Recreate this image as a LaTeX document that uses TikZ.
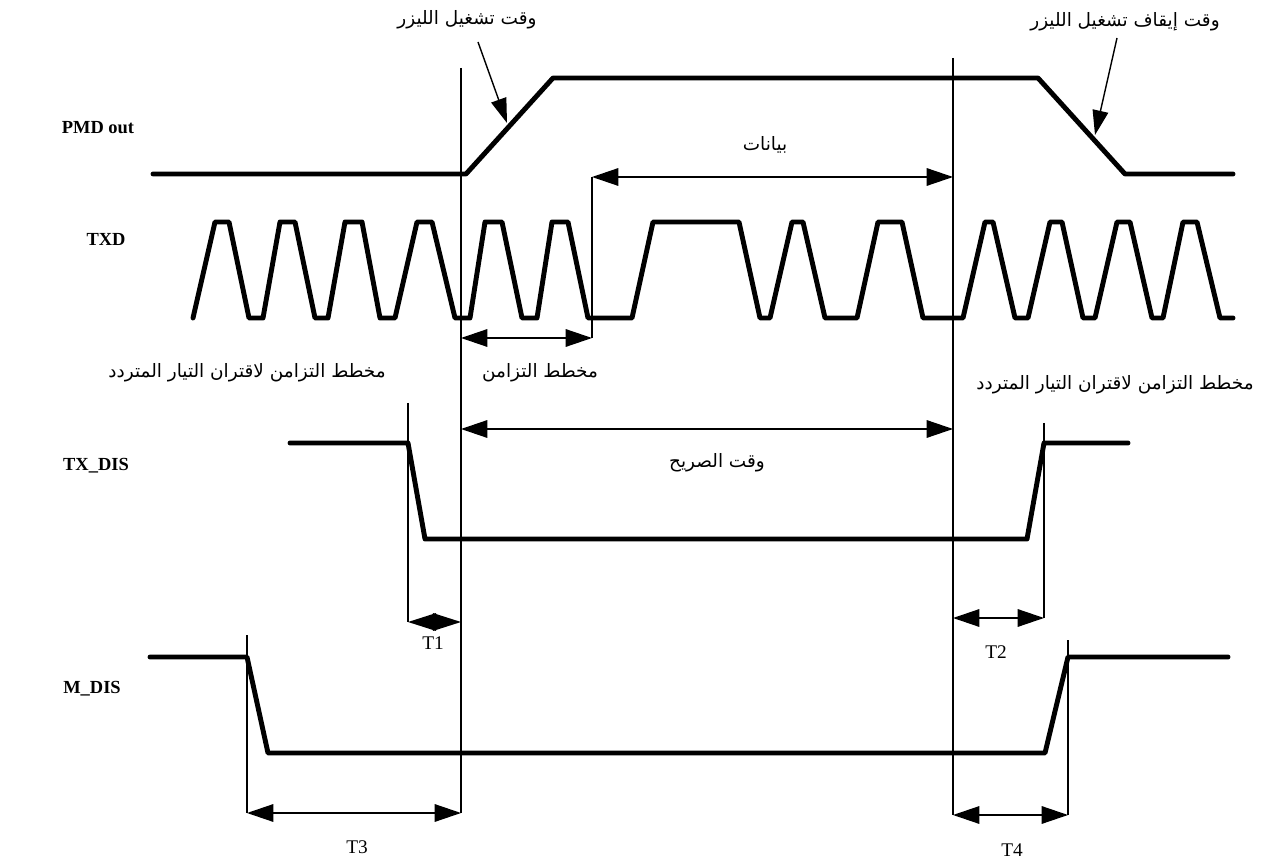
\documentclass[tikz,border=0pt]{standalone}
\usepackage{fontspec}
\setmainfont{Liberation Serif}
\newfontfamily\arabicfont[Script=Arabic]{DejaVu Sans}
\TeXXeTstate=1
\usetikzlibrary{arrows.meta}
\begin{document}
\begin{tikzpicture}[x=0.02cm,y=-0.02cm]
\tikzset{
 sig/.style={line width=2.8pt, line join=round, line cap=round},
 guide/.style={line width=0.75pt},
 dim/.style={line width=0.8pt, {Triangle[length=15pt,width=10pt]}-{Triangle[length=15pt,width=10pt]}},
 dimshort/.style={line width=0.8pt, {Triangle[length=16pt,width=10pt]}-{Triangle[length=16pt,width=10pt]}},
 ptr/.style={line width=0.8pt, -{Triangle[length=14pt,width=9pt]}},
 ar/.style={font=\arabicfont\fontsize{10.5}{12}\selectfont, inner sep=0pt},
 sl/.style={font=\bfseries\fontsize{10.5}{12}\selectfont, inner sep=0pt},
 tl/.style={font=\fontsize{11}{13}\selectfont, inner sep=0pt}
}
\useasboundingbox (0,0) rectangle (1261,861);
\fill[white] (0,0) rectangle (1261,861);

% signal labels
\node[sl] (lpmd) at (98,128) {PMD out};
\node[sl] (ltxd) at (106,239) {TXD};
\node[sl] (ltxdis) at (96,466) {TX\_DIS};
\node[sl] (lmdis) at (92,689) {M\_DIS};

% vertical reference lines
\draw[guide] (461,68) -- (461,207);
\draw[line width=1.3pt] (461,207) -- (461,813);
\draw[line width=1pt] (953,58) -- (953,815);
\draw[guide] (592,177) -- (592,338);
\draw[guide] (408,403) -- (408,622);
\draw[guide] (1044,423) -- (1044,618);
\draw[guide] (247,635) -- (247,813);
\draw[guide] (1068,640) -- (1068,815);

% PMD out
\draw[sig] (153,174) -- (466,174) -- (553,78) -- (1038,78) -- (1125,174) -- (1233,174);

% TXD
\draw[sig] (193,318) -- (215,222) -- (229,222) -- (249,318) -- (263,318) -- (280,222) -- (295,222) -- (315,318) -- (328,318) -- (345,222) -- (362,222) -- (380,318) -- (395,318) -- (417,222) -- (432,222) -- (455,318) -- (470,318) -- (485,222) -- (502,222) -- (522,318) -- (537,318) -- (552,222) -- (568,222) -- (588,318) -- (632,318) -- (653,222) -- (739,222) -- (760,318) -- (770,318) -- (792,222) -- (803,222) -- (825,318) -- (857,318) -- (878,222) -- (902,222) -- (923,318) -- (963,318) -- (985,222) -- (993,222) -- (1015,318) -- (1028,318) -- (1050,222) -- (1062,222) -- (1083,318) -- (1095,318) -- (1117,222) -- (1130,222) -- (1152,318) -- (1163,318) -- (1183,222) -- (1197,222) -- (1220,318) -- (1233,318);

% TX_DIS
\draw[sig] (290,443) -- (408,443) -- (425,539) -- (1027,539) -- (1044,443) -- (1128,443);

% M_DIS
\draw[sig] (150,657) -- (247,657) -- (268,753) -- (1045,753) -- (1068,657) -- (1228,657);

% dimension arrows
\coordinate (dA1) at (592,177); \coordinate (dA2) at (953,177);
\coordinate (dB1) at (461,338); \coordinate (dB2) at (592,338);
\coordinate (dC1) at (461,429); \coordinate (dC2) at (953,429);
\coordinate (dT1a) at (408,622); \coordinate (dT1b) at (461,622);
\coordinate (dT2a) at (953,618); \coordinate (dT2b) at (1044,618);
\coordinate (dT3a) at (247,813); \coordinate (dT3b) at (461,813);
\coordinate (dT4a) at (953,815); \coordinate (dT4b) at (1068,815);
\draw[dim] (dA1) -- (dA2);
\draw[dim] (dB1) -- (dB2);
\draw[dim] (dC1) -- (dC2);
\draw[dimshort] (dT1a) -- (dT1b);
\draw[dim] (dT2a) -- (dT2b);
\draw[dim] (dT3a) -- (dT3b);
\draw[dim] (dT4a) -- (dT4b);

% Arabic labels
\node[ar] (lon) at (467,20) {\beginR وقت تشغيل الليزر\endR};
\node[ar] (loff) at (1125,22) {\beginR وقت إيقاف تشغيل الليزر\endR};
\node[ar] (ldata) at (765,145) {\beginR بيانات\endR};
\node[ar, anchor=east] (lacl) at (386,373) {\beginR مخطط التزامن لاقتران التيار المتردد\endR};
\node[ar] (lacr) at (1115,385) {\beginR مخطط التزامن لاقتران التيار المتردد\endR};
\node[ar] (lsync) at (540,373) {\beginR مخطط التزامن\endR};
\node[ar] (lclear) at (717,463) {\beginR وقت الصريح\endR};

% pointer arrows
\coordinate (pon1) at (478,42); \coordinate (pon2) at (507,123);
\coordinate (poff1) at (1117,38); \coordinate (poff2) at (1095,135);
\draw[ptr] (pon1) -- (pon2);
\draw[ptr] (poff1) -- (poff2);

% T labels
\node[tl] (t1) at (433,643) {T1};
\node[tl] (t2) at (996,652) {T2};
\node[tl] (t3) at (357,847) {T3};
\node[tl] (t4) at (1012,850) {T4};
\end{tikzpicture}
\end{document}
